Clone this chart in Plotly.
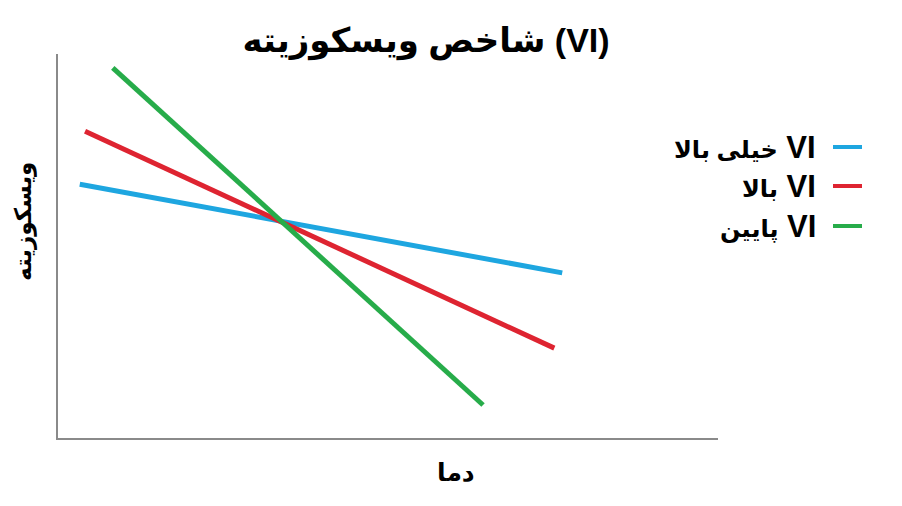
import plotly.graph_objects as go

# داده‌ها (مقادیر نسبی، محور بدون عدد)
series_names = ['خیلی بالا', 'بالا', 'پایین']
series_tag = 'VI'
series_colors = ['#1ea6e0', '#de2431', '#27ac4a']
dama_blue = [3.3, 76.4]
visc_blue = [66.1, 43.0]
dama_red = [4.1, 75.2]
visc_red = [79.9, 23.4]
dama_green = [8.3, 64.4]
visc_green = [96.4, 8.6]

# صفحه با حاشیه 8 پیکسلی body نمایش داده می‌شود
OFF = 8
W, H = 902 - OFF, 506 - OFF
L, R, T, B = 58 - OFF, W - (718 - OFF), 54 - OFF, H - (438 - OFF)
FONT = 'Liberation Sans, DejaVu Sans, Arial, sans-serif'


def px_to_paper(px, py):
    # مختصات پیکسل تصویر مرجع -> paper
    px, py = px - OFF, py - OFF
    return (px - L) / (W - L - R), (H - B - py) / (H - T - B)


fig = go.Figure()

for xs, ys, name, color in zip(
        [dama_blue, dama_red, dama_green],
        [visc_blue, visc_red, visc_green],
        series_names, series_colors):
    fig.add_trace(go.Scatter(
        x=xs, y=ys,
        mode='lines',
        name=name + ' ' + series_tag,
        line=dict(color=color, width=5),
        hoverinfo='skip'
    ))

# راهنمای دستی: متن در چپ، نمونه خط در راست
annotations = []
shapes = []
for i, (name, color) in enumerate(zip(series_names, series_colors)):
    row_y = [147, 186, 226][i]
    tx, ty = px_to_paper(818, row_y)
    annotations.append(dict(
        x=tx, y=ty, xref='paper', yref='paper',
        text=f'<span style="font-size:24px">{name}</span> {series_tag}',
        showarrow=False, xanchor='right', yanchor='middle',
        font=dict(family=FONT, size=31, color='black', weight='bold')
    ))
    x0, y0 = px_to_paper(833, row_y)
    x1, _ = px_to_paper(862, row_y)
    shapes.append(dict(
        type='line', xref='paper', yref='paper',
        x0=x0, x1=x1, y0=y0, y1=y0,
        line=dict(color=color, width=4)
    ))

# عنوان محورها
ax, ay = px_to_paper(456, 472)
annotations.append(dict(
    x=ax, y=ay, xref='paper', yref='paper', text='دما', showarrow=False,
    xanchor='center', yanchor='middle',
    font=dict(family=FONT, size=25, color='black', weight='bold')
))
bx, by = px_to_paper(23, 222)
annotations.append(dict(
    x=bx, y=by, xref='paper', yref='paper', text='ویسکوزیته', showarrow=False,
    textangle=-90, xanchor='center', yanchor='middle',
    font=dict(family=FONT, size=23, color='black', weight='bold')
))

fig.update_layout(
    width=W, height=H,
    margin=dict(l=L, r=R, t=T, b=B),
    paper_bgcolor='white',
    plot_bgcolor='white',
    showlegend=False,
    title=dict(
        text='شاخص ویسکوزیته (VI)',
        x=(426 - OFF) / W, xanchor='center',
        y=1 - (40 - OFF) / H, yanchor='middle',
        font=dict(family=FONT, size=34, color='black', weight='bold')
    ),
    annotations=annotations,
    shapes=shapes
)

fig.update_xaxes(
    range=[0, 100], showgrid=False, zeroline=False,
    showticklabels=False, ticks='',
    showline=True, linecolor='#8a8a8a', linewidth=2
)
fig.update_yaxes(
    range=[0, 100], showgrid=False, zeroline=False,
    showticklabels=False, ticks='',
    showline=True, linecolor='#8a8a8a', linewidth=2
)

fig.write_html('out.html')
